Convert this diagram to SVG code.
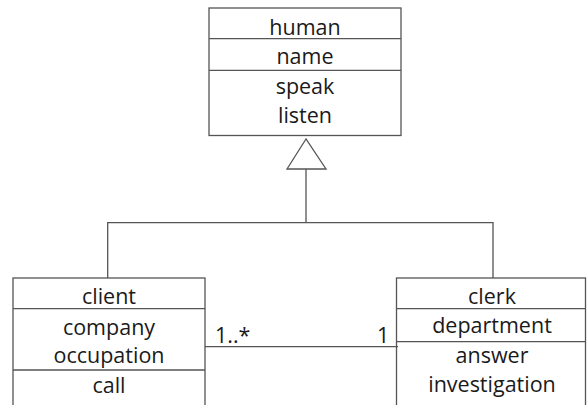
<svg xmlns="http://www.w3.org/2000/svg" width="587" height="405" viewBox="0 0 587 405">
  <style>
    .box { fill: #ffffff; stroke: #555555; stroke-width: 1.3; }
    .sep { stroke: #555555; stroke-width: 1.3; }
    .edge { fill: none; stroke: #555555; stroke-width: 1.3; }
    text { font-family: "Open Sans", "Noto Sans", sans-serif; font-size: 21.5px; fill: #1a1a1a; text-anchor: middle; }
    text.lbl { text-anchor: start; }
  </style>
  <rect width="587" height="405" fill="#ffffff"/>

  <!-- class: human -->
  <g id="human">
    <rect class="box" x="209" y="8" width="192" height="127.5"/>
    <line class="sep" x1="209" y1="38.7" x2="401" y2="38.7"/>
    <line class="sep" x1="209" y1="70.3" x2="401" y2="70.3"/>
    <text x="305" y="35">human</text>
    <text x="305" y="64">name</text>
    <text x="305" y="94">speak</text>
    <text x="305" y="123">listen</text>
  </g>

  <!-- class: client -->
  <g id="client">
    <rect class="box" x="13" y="278" width="192" height="140"/>
    <line class="sep" x1="13" y1="308.7" x2="205" y2="308.7"/>
    <line class="sep" x1="13" y1="370" x2="205" y2="370"/>
    <text x="109" y="304">client</text>
    <text x="109" y="335">company</text>
    <text x="109" y="363">occupation</text>
    <text x="109" y="393">call</text>
  </g>

  <!-- class: clerk -->
  <g id="clerk">
    <rect class="box" x="396.5" y="278" width="189" height="140"/>
    <line class="sep" x1="396.5" y1="308.7" x2="585.5" y2="308.7"/>
    <line class="sep" x1="396.5" y1="341.7" x2="585.5" y2="341.7"/>
    <text x="492" y="304">clerk</text>
    <text x="492" y="333">department</text>
    <text x="492" y="363">answer</text>
    <text x="492" y="392">investigation</text>
  </g>

  <!-- generalization and association -->
  <g id="connectors">
    <polyline class="edge" points="107.7,278 107.7,222.7 493,222.7 493,278"/>
    <line class="edge" x1="306" y1="169" x2="306" y2="222.7"/>
    <polygon class="edge" points="306,139 287,169 326,169"/>
    <line class="edge" x1="205" y1="346.7" x2="398" y2="346.7"/>
    <text class="lbl" x="215" y="343">1..*</text>
    <text class="lbl" x="377" y="343">1</text>
  </g>
</svg>
